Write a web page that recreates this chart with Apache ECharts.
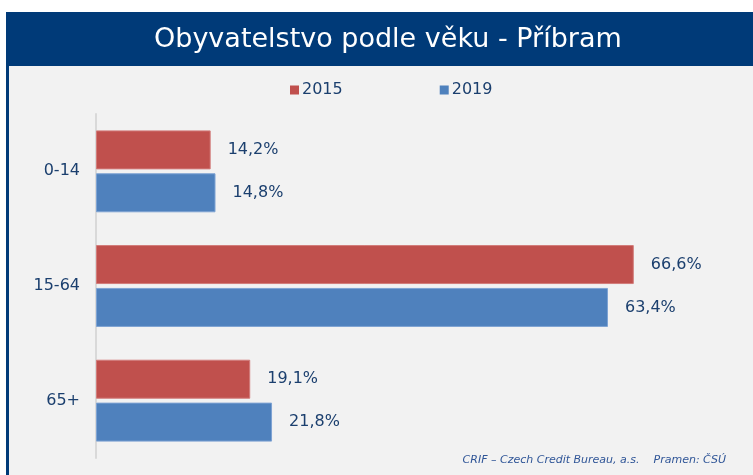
<!DOCTYPE html>
<html>
<head>
<meta charset="utf-8">
<script src="https://cdn.jsdelivr.net/npm/echarts@6/dist/echarts.min.js"></script>
<style>
  html, body { margin: 0; padding: 0; background: #fff; }
  #myChart { width: 753px; height: 475px; }
</style>
</head>
<body>
<div id="myChart"></div>
<script>
// data
const categories = ["0-14", "15-64", "65+"];
const seriesNames = ["2015", "2019"];
const values2015 = [14.2, 66.6, 19.1];
const values2019 = [14.8, 63.4, 21.8];

const textColor = "#1b3f6e";
const fmt = (p) => p.value.toFixed(1).replace(".", ",") + "%";

let myChart = echarts.init(document.getElementById("myChart"));
myChart.setOption({
  animation: false,
  textStyle: { fontFamily: "DejaVu Sans" },
  graphic: [
    // gray panel
    { type: "rect", shape: { x: 6, y: 12, width: 747, height: 463 }, style: { fill: "#f2f2f2" }, z: -10 },
    // title bar
    { type: "rect", shape: { x: 6, y: 12, width: 747, height: 54 }, style: { fill: "#003a78" }, z: -5 },
    // left border
    { type: "rect", shape: { x: 6, y: 12, width: 3, height: 463 }, style: { fill: "#003a78" }, z: -5 },
    {
      type: "text", left: 154, top: 26,
      style: {
        text: "Obyvatelstvo podle věku - Příbram",
        fill: "#fff", font: "27px 'DejaVu Sans'"
      }
    },
    {
      type: "text", right: 27, top: 455,
      style: {
        text: "CRIF – Czech Credit Bureau, a.s.    Pramen: ČSÚ",
        fill: "#2f5597", font: "italic 11px 'DejaVu Sans'"
      }
    }
  ],
  legend: {
    data: seriesNames,
    left: 285,
    top: 77,
    itemWidth: 9,
    itemHeight: 9,
    itemGap: 97,
    icon: "rect",
    itemStyle: { borderWidth: 0 },
    textStyle: { color: textColor, fontSize: 16, padding: [0, 0, 0, -2] }
  },
  grid: { left: 96, right: 11, top: 114, bottom: 17, containLabel: false },
  xAxis: {
    type: "value",
    min: 0,
    max: 80,
    show: false
  },
  yAxis: {
    type: "category",
    data: categories,
    inverse: true,
    axisTick: { show: false },
    axisLine: { lineStyle: { color: "#d9d9d9", width: 2 } },
    axisLabel: { color: textColor, fontSize: 16, margin: 16, padding: [3, 0, 0, 0] }
  },
  series: [
    {
      name: seriesNames[0],
      type: "bar",
      data: values2015,
      barWidth: 39,
      barGap: "10%",
      itemStyle: { color: "#c0504d", borderColor: "#d27c7a", borderWidth: 1 },
      label: { show: true, position: "right", distance: 17, color: textColor, fontSize: 16, padding: [3, 0, 0, 0], formatter: fmt }
    },
    {
      name: seriesNames[1],
      type: "bar",
      data: values2019,
      barWidth: 39,
      barGap: "10%",
      itemStyle: { color: "#4f81bd", borderColor: "#7ea3d3", borderWidth: 1 },
      label: { show: true, position: "right", distance: 17, color: textColor, fontSize: 16, padding: [3, 0, 0, 0], formatter: fmt }
    }
  ]
});
</script>
</body>
</html>
